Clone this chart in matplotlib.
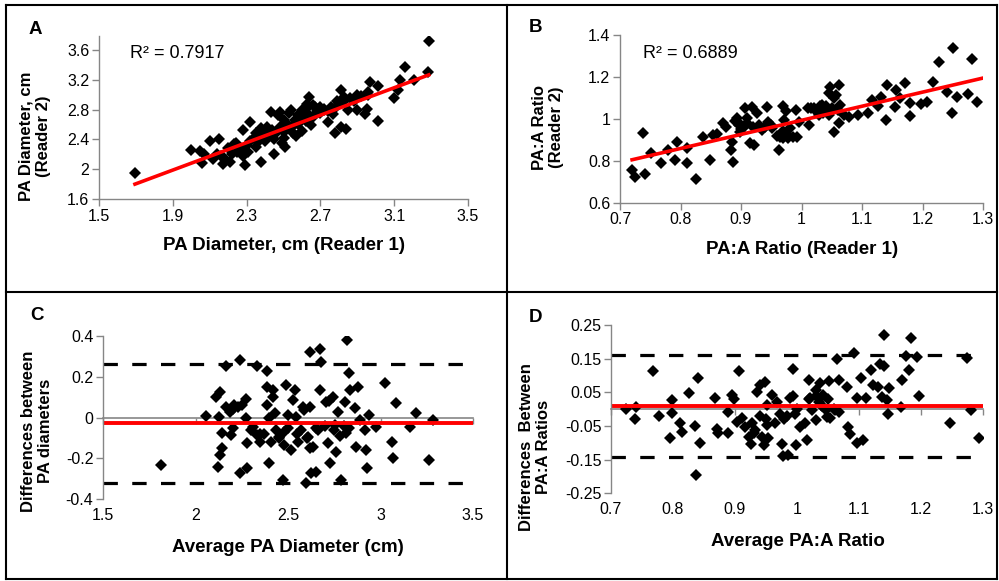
import matplotlib
matplotlib.use('Agg')
import matplotlib.pyplot as plt
from matplotlib.lines import Line2D

plt.rcParams['font.family'] = ['Liberation Sans', 'DejaVu Sans']
plt.rcParams['axes.unicode_minus'] = False

# ---- panel A: PA diameter, reader 1 vs reader 2 (cm)
A_r1 = [1.695, 3.287, 3.283, 3.157, 3.21, 3.13, 3.12, 3.10, 3.01, 3.01, 2.97, 2.96, 2.95, 2.94,
        2.90, 2.90, 2.85, 2.84, 2.81, 2.78, 2.81, 2.83, 2.79, 2.77, 2.74, 2.72, 2.70, 2.67,
        2.64, 2.63, 2.62, 2.65, 2.60, 2.57, 2.61, 2.58, 2.56, 2.54, 2.51, 2.49, 2.48, 2.45,
        2.44, 2.43, 2.41, 2.38, 2.37, 2.35, 2.32, 2.31, 2.29, 2.28, 2.25, 2.23, 2.21, 2.17,
        2.16, 2.15, 2.10, 2.07, 2.06, 2.05, 2.00,
        2.20, 2.22, 2.25, 2.27, 2.30, 2.32, 2.34, 2.36, 2.38, 2.40, 2.42, 2.44, 2.46, 2.48,
        2.50, 2.52, 2.54, 2.56, 2.58, 2.60, 2.62, 2.64, 2.66, 2.68, 2.70, 2.72, 2.74, 2.76,
        2.78, 2.80, 2.82, 2.86, 2.88, 2.92, 2.96, 2.35, 2.40, 2.45, 2.50, 2.55, 2.28, 2.18,
        2.14, 2.12, 2.24, 2.38, 2.50, 2.47, 2.53, 2.60, 2.66]
A_r2 = [1.943, 3.725, 3.30, 3.37, 3.20, 3.19, 3.06, 2.95, 2.64, 3.12, 3.17, 3.03, 2.81, 2.74,
        2.99, 2.79, 2.79, 2.54, 2.56, 2.48, 3.06, 2.97, 2.92, 2.74, 2.63, 2.81, 2.83, 2.83,
        2.97, 2.88, 2.81, 2.59, 2.51, 2.44, 2.70, 2.72, 2.66, 2.79, 2.30, 2.35, 2.77, 2.21,
        2.44, 2.77, 2.57, 2.10, 2.44, 2.49, 2.63, 2.23, 2.05, 2.53, 2.23, 2.34, 2.10, 2.07,
        2.17, 2.41, 2.38, 2.21, 2.08, 2.24, 2.26,
        2.28, 2.20, 2.30, 2.26, 2.32, 2.38, 2.42, 2.36, 2.46, 2.50, 2.45, 2.53, 2.48, 2.56,
        2.50, 2.60, 2.55, 2.62, 2.60, 2.68, 2.64, 2.72, 2.70, 2.78, 2.75, 2.80, 2.78, 2.84,
        2.82, 2.88, 2.90, 2.95, 2.92, 2.98, 2.99, 2.30, 2.38, 2.40, 2.42, 2.48, 2.18, 2.15,
        2.20, 2.13, 2.35, 2.55, 2.66, 2.72, 2.76, 2.80, 2.86]
A_fit = [0.92, 0.24]   # slope, intercept of trendline
A_r2_text = 'R² = 0.7917'
A_xticks = [1.5, 1.9, 2.3, 2.7, 3.1, 3.5]
A_yticks = [1.6, 2.0, 2.4, 2.8, 3.2, 3.6]

# ---- panel B: PA:A ratio, reader 1 vs reader 2
B_r1 = [0.72, 0.724, 0.738, 0.741, 0.752, 0.767, 0.78, 0.791, 0.794, 0.81, 0.81, 0.826, 0.837,
        0.849, 0.853, 0.871, 0.876, 0.884, 0.886, 0.885, 0.893, 0.896, 0.899, 0.904, 0.907,
        0.91, 0.915, 0.918, 0.921, 0.926, 0.929, 0.934, 0.943, 0.945, 0.951, 0.962, 0.965,
        0.969, 0.971, 0.975, 0.977, 0.981, 0.986, 0.991, 0.993, 0.996, 1.012, 1.016, 1.023,
        1.029, 1.034, 1.04, 1.045, 1.047, 1.054, 1.054, 1.057, 1.062, 1.063, 1.062, 1.071,
        1.079, 1.093, 1.11, 1.116, 1.127, 1.132, 1.139, 1.141, 1.155, 1.157, 1.163, 1.171,
        1.179, 1.179, 1.198, 1.207, 1.217, 1.228, 1.241, 1.25, 1.249, 1.257, 1.276, 1.281, 1.29,
        0.90, 0.89, 0.905, 0.91, 0.90, 0.92, 0.96, 0.97, 0.98, 0.97, 1.03, 1.02, 1.035, 1.04,
        1.05, 1.045, 1.06, 1.03, 1.01, 0.95, 0.94, 0.86]
B_r2 = [0.756, 0.724, 0.934, 0.737, 0.839, 0.791, 0.851, 0.804, 0.891, 0.788, 0.859, 0.711,
        0.912, 0.804, 0.923, 0.979, 0.963, 0.851, 0.792, 0.891, 1.003, 0.971, 0.939, 0.963,
        1.05, 1.003, 0.883, 1.058, 0.875, 1.026, 0.971, 0.947, 1.055, 0.987, 0.955, 0.851,
        0.915, 1.061, 0.994, 1.037, 0.907, 0.955, 0.915, 1.042, 0.915, 0.987, 0.971, 1.05,
        1.042, 1.018, 1.066, 1.042, 1.122, 1.15, 1.098, 0.939, 1.114, 1.161, 1.066, 0.979,
        1.018, 1.01, 1.018, 1.026, 1.09, 1.061, 1.106, 0.994, 1.161, 1.058, 1.138, 1.098,
        1.169, 1.013, 1.074, 1.071, 1.082, 1.177, 1.273, 1.13, 1.34, 1.029, 1.103, 1.118,
        1.284, 1.082,
        0.97, 0.99, 0.96, 0.98, 0.95, 0.96, 0.92, 0.91, 0.92, 0.94, 1.04, 1.05, 1.03, 1.06,
        1.05, 1.02, 1.04, 1.06, 1.05, 0.97, 0.96, 0.93]
B_fit = [0.672, 0.321]
B_r2_text = 'R² = 0.6889'
B_xticks = [0.7, 0.8, 0.9, 1.0, 1.1, 1.2, 1.3]
B_yticks = [0.6, 0.8, 1.0, 1.2, 1.4]

# ---- panel C: Bland-Altman, PA diameters
C_avg = [1.815, 2.055, 2.109, 2.134, 2.125, 2.143, 2.143, 2.134, 2.123, 2.167, 2.167, 2.185,
         2.194, 2.203, 2.239, 2.239, 2.272, 2.275, 2.278, 2.278, 2.23, 2.21, 2.33, 2.31, 2.333,
         2.369, 2.388, 2.388, 2.388, 2.397, 2.397, 2.41, 2.419, 2.428, 2.437, 2.452, 2.474,
         2.479, 2.491, 2.5, 2.518, 2.527, 2.536, 2.541, 2.554, 2.572, 2.585, 2.595, 2.608,
         2.617, 2.62, 2.626, 2.635, 2.649, 2.662, 2.674, 2.68, 2.671, 2.705, 2.717, 2.726,
         2.744, 2.753, 2.762, 2.771, 2.789, 2.807, 2.816, 2.821, 2.83, 2.834, 2.861, 2.866,
         2.879, 2.887, 2.914, 2.923, 2.928, 2.937, 2.977, 3.023, 3.063, 3.068, 3.086, 3.158,
         3.194, 3.26, 3.284,
         2.20, 2.25, 2.30, 2.35, 2.45, 2.50, 2.55, 2.60, 2.65, 2.70, 2.75, 2.80, 2.72, 2.58,
         2.42, 2.35, 2.62, 2.48, 2.78, 2.83]
C_diff = [-0.232, 0.008, 0.103, 0.127, 0.005, -0.077, -0.15, -0.183, -0.24, 0.253, 0.054, 0.029,
          -0.085, -0.052, 0.282, -0.27, 0.09, -0.003, -0.126, -0.248, 0.054, 0.062, 0.253,
          -0.044, -0.085, -0.08, 0.229, 0.152, 0.062, -0.003, -0.224, -0.118, 0.136, 0.021,
          -0.06, -0.093, -0.305, -0.134, 0.16, 0.013, -0.158, 0.087, 0.136, 0.005, -0.118,
          -0.06, 0.038, -0.322, -0.093, 0.054, 0.323, -0.273, -0.142, -0.264, -0.06, 0.335,
          0.274, 0.136, 0.078, -0.126, -0.224, 0.1, -0.036, -0.167, 0.029, -0.305, 0.078,
          -0.077, 0.38, 0.217, 0.136, 0.046, -0.142, 0.152, -0.011, -0.06, -0.158, -0.248,
          0.013, -0.044, 0.168, -0.118, -0.199, 0.073, -0.044, 0.021, -0.207, -0.011,
          0.04, 0.06, -0.06, -0.08, -0.10, -0.05, -0.08, -0.10, -0.05, -0.04, -0.06, -0.04,
          0.08, 0.05, 0.10, -0.12, -0.15, -0.07, -0.09, -0.05]
C_mean, C_upper, C_lower = -0.028, 0.261, -0.318
C_xticks = [1.5, 2.0, 2.5, 3.0, 3.5]
C_yticks = [-0.4, -0.2, 0.0, 0.2, 0.4]

# ---- panel D: Bland-Altman, PA:A ratios
D_avg = [0.724, 0.738, 0.74, 0.768, 0.778, 0.795, 0.798, 0.798, 0.811, 0.814, 0.826, 0.836,
         0.837, 0.841, 0.844, 0.868, 0.871, 0.873, 0.889, 0.889, 0.895, 0.898, 0.906, 0.904,
         0.911, 0.916, 0.923, 0.926, 0.927, 0.933, 0.935, 0.94, 0.941, 0.943, 0.946, 0.948,
         0.951, 0.951, 0.954, 0.959, 0.965, 0.967, 0.973, 0.976, 0.978, 0.979, 0.984, 0.986,
         0.989, 0.993, 0.994, 0.997, 0.998, 1.005, 1.013, 1.016, 1.019, 1.021, 1.024, 1.03,
         1.031, 1.035, 1.037, 1.038, 1.042, 1.046, 1.048, 1.051, 1.054, 1.062, 1.065, 1.067,
         1.067, 1.081, 1.083, 1.085, 1.092, 1.096, 1.097, 1.103, 1.107, 1.112, 1.12, 1.123,
         1.131, 1.134, 1.14, 1.14, 1.137, 1.145, 1.147, 1.148, 1.167, 1.17, 1.18, 1.176,
         1.184, 1.194, 1.196, 1.247, 1.275, 1.28, 1.294,
         1.02, 1.03, 1.04, 1.00, 0.95, 0.93, 1.05, 1.06]
D_diff = [0.0, -0.03, 0.007, 0.113, -0.02, -0.087, 0.027, -0.01, -0.042, -0.067, 0.049, -0.049,
          -0.197, 0.092, -0.1, 0.032, -0.06, -0.072, -0.007, -0.07, 0.042, 0.029, 0.113,
          -0.037, -0.027, -0.052, -0.082, -0.104, -0.042, -0.062, 0.052, 0.072, -0.02, -0.082,
          -0.106, 0.082, -0.047, 0.012, -0.087, 0.042, -0.042, 0.022, -0.015, -0.104, -0.14,
          -0.03, -0.02, -0.136, 0.032, 0.039, 0.118, -0.015, -0.106, -0.052, -0.042, -0.092,
          0.087, 0.032, -0.004, 0.057, -0.032, 0.022, 0.079, 0.012, 0.042, -0.002, -0.022,
          0.084, -0.027, -0.004, 0.148, 0.087, -0.007, 0.067, -0.052, -0.074, 0.167, -0.1,
          0.032, 0.094, -0.092, 0.032, 0.116, 0.072, 0.067, 0.134, 0.22, 0.128, 0.037, 0.027,
          -0.015, 0.062, 0.007, 0.087, 0.116, 0.158, 0.21, 0.156, 0.039, -0.04, 0.151, -0.004,
          -0.087,
          0.03, 0.04, 0.01, 0.0, -0.03, -0.07, 0.03, 0.0]
D_mean, D_upper, D_lower = 0.009, 0.161, -0.143
D_xticks = [0.7, 0.8, 0.9, 1.0, 1.1, 1.2, 1.3]
D_yticks = [-0.25, -0.15, -0.05, 0.05, 0.15, 0.25]

W, H = 999, 581
GRAY = '#868686'
RED = '#ff0000'

fig = plt.figure(figsize=(W / 100, H / 100), dpi=100)


def box(l, t, r, b):
    return [l / W, 1 - b / H, (r - l) / W, (b - t) / H]


def ftext(x, y, s, **kw):
    fig.text(x / W, 1 - y / H, s, **kw)


def style(ax, xticks, yticks, xlim, ylim):
    ax.set_xlim(xlim)
    ax.set_ylim(ylim)
    ax.set_xticks(xticks, [f'{t:g}' for t in xticks])
    ax.set_yticks(yticks, [f'{t:g}' for t in yticks])
    for s in ['top', 'right']:
        ax.spines[s].set_visible(False)
    for s in ['left', 'bottom']:
        ax.spines[s].set_color(GRAY)
        ax.spines[s].set_linewidth(1.0)
    ax.tick_params(colors=GRAY, labelcolor='black', labelsize=11.5, length=5, width=1.0,
                   direction='out', pad=2)
    ax.set_facecolor('none')


def zero_axis(ax, xticks):
    # Excel style: category axis crossing at 0, labels kept at the bottom
    ax.spines['bottom'].set_visible(False)
    ax.tick_params(axis='x', length=0, pad=6)
    sec = ax.secondary_xaxis(0.5)
    sec.set_xticks(xticks)
    sec.tick_params(axis='x', colors=GRAY, length=4, width=1.0, direction='in',
                    labeltop=False, labelbottom=False)
    for s in sec.spines.values():
        s.set_color(GRAY)
        s.set_linewidth(1.2)


mk = dict(ls='none', marker='D', ms=6, color='black', mew=0)
dash = dict(color='black', lw=2.3, ls=(0, (4.5, 4.5)))

# A
axA = fig.add_axes(box(99, 35.7, 468, 199))
style(axA, A_xticks, A_yticks, (1.5, 3.5), (1.6, 3.79))
axA.plot(A_r1, A_r2, **mk)
xs = [min(A_r1), max(A_r1)]
axA.plot(xs, [A_fit[0] * v + A_fit[1] for v in xs], color=RED, lw=2.6)
ftext(130, 53, A_r2_text, fontsize=13, va='center')

# B
axB = fig.add_axes(box(620, 35, 983, 202.7))
style(axB, B_xticks, B_yticks, (0.7, 1.3), (0.6, 1.4))
axB.plot(B_r1, B_r2, **mk)
xs = [min(B_r1), 1.3]
axB.plot(xs, [B_fit[0] * v + B_fit[1] for v in xs], color=RED, lw=2.6)
ftext(643, 53, B_r2_text, fontsize=13, va='center')

# C
axC = fig.add_axes(box(103, 336, 473, 499.3))
style(axC, C_xticks, C_yticks, (1.5, 3.5), (-0.4, 0.4))
zero_axis(axC, C_xticks)
axC.plot(C_avg, C_diff, **mk)
axC.axhline(C_upper, **dash)
axC.axhline(C_lower, **dash)
axC.axhline(C_mean, color=RED, lw=2.8)

# D
axD = fig.add_axes(box(611, 325, 983, 493.3))
style(axD, D_xticks, D_yticks, (0.7, 1.3), (-0.25, 0.25))
zero_axis(axD, D_xticks)
axD.plot(D_avg, D_diff, **mk)
axD.axhline(D_upper, **dash)
axD.axhline(D_lower, **dash)
axD.axhline(D_mean, color=RED, lw=2.8)

# axis titles
xlab = dict(fontsize=13.5, fontweight='bold', ha='center', va='center')
ylab = dict(fontsize=12, fontweight='bold', ha='center', va='center', rotation=90,
            linespacing=1.2)
ftext(284, 246, 'PA Diameter, cm (Reader 1)', **xlab)
ftext(35, 136, 'PA Diameter, cm\n(Reader 2)', **ylab)
ftext(802, 250, 'PA:A Ratio (Reader 1)', **xlab)
ftext(548, 127, 'PA:A Ratio\n(Reader 2)', **ylab)
ftext(288, 548, 'Average PA Diameter (cm)', **xlab)
ftext(37, 431, 'Differences between\nPA diameters', **ylab)
ftext(798, 541, 'Average PA:A Ratio', **xlab)
ftext(535, 447, 'Differences  Between\nPA:A Ratios', **ylab)

# panel letters
let = dict(fontsize=13.5, fontweight='bold', ha='center', va='center')
ftext(35, 29, 'A', **let)
ftext(535, 28, 'B', **let)
ftext(37, 315, 'C', **let)
ftext(535, 317, 'D', **let)

# panel frames
for x0, y0, x1, y1 in [(6, 5, 997, 5), (6, 579, 997, 579), (6, 5, 6, 579), (997, 5, 997, 579),
                       (507, 5, 507, 579), (6, 292, 997, 292)]:
    fig.add_artist(Line2D([x0 / W, x1 / W], [1 - y0 / H, 1 - y1 / H], color='black', lw=1.5))

fig.savefig('out.png', dpi=100)
